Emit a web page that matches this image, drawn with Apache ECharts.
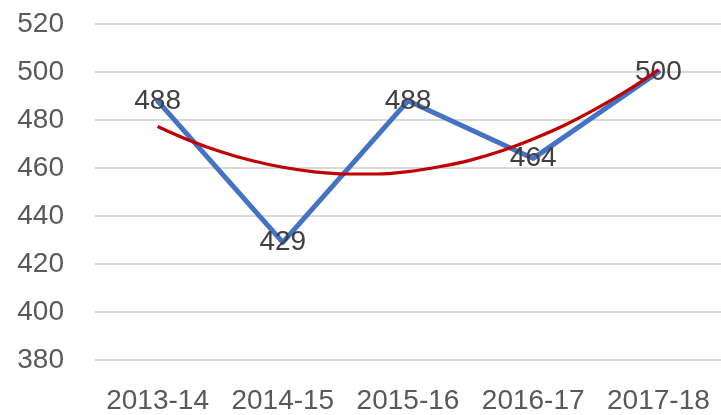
<!DOCTYPE html>
<html>
<head>
<meta charset="utf-8">
<script src="https://cdn.jsdelivr.net/npm/echarts@6/dist/echarts.min.js"></script>
<style>html,body{margin:0;padding:0;background:#fff;}#c{width:721px;height:415px;}</style>
</head>
<body>
<div id="c"></div>
<script>
var categories = ['2013-14', '2014-15', '2015-16', '2016-17', '2017-18'];
var values = [488, 429, 488, 464, 500];
// trend line (polynomial) at quarter-category steps
var trendX = [0, 0.25, 0.5, 0.75, 1, 1.25, 1.5, 1.75, 2, 2.25, 2.5, 2.75, 3, 3.25, 3.5, 3.75, 4];
var trendY = [477.3, 471.6, 466.9, 463.1, 460.3, 458.4, 457.5, 457.5, 458.5, 460.5, 463.3, 467.2, 472.1, 477.8, 484.6, 492.2, 500.9];
var yTicks = { min: 380, max: 520, interval: 20 };

var font = 'Liberation Sans';
var chart = echarts.init(document.getElementById('c'), null, { renderer: 'canvas' });
chart.setOption({
  animation: false,
  backgroundColor: '#fff',
  grid: { left: 95, top: 24, width: 631, height: 337, containLabel: false },
  xAxis: [
    {
      type: 'category', data: categories, boundaryGap: true,
      axisLine: { show: false }, axisTick: { show: false },
      axisLabel: { color: '#595959', fontSize: 28, fontFamily: font, margin: 27, interval: 0, hideOverlap: false }
    },
    { type: 'value', min: -0.5, max: 4.5, show: false }
  ],
  yAxis: {
    type: 'value', min: yTicks.min, max: yTicks.max, interval: yTicks.interval,
    axisLine: { show: false }, axisTick: { show: false },
    splitLine: { lineStyle: { color: '#d9d9d9', width: 2 } },
    axisLabel: { color: '#595959', fontSize: 28, fontFamily: font, margin: 31 }
  },
  series: [
    {
      type: 'line', xAxisIndex: 0, data: values,
      symbol: 'circle', symbolSize: 2, showSymbol: true,
      itemStyle: { color: 'rgba(0,0,0,0)' },
      lineStyle: { color: '#4472c4', width: 5, cap: 'round', join: 'round' },
      label: {
        show: true, position: ['50%', '50%'], align: 'center', verticalAlign: 'middle',
        color: '#404040', fontSize: 28, fontFamily: font, offset: [0, 3]
      },
      labelLayout: { hideOverlap: false },
      z: 2
    },
    {
      type: 'line', xAxisIndex: 1,
      data: trendX.map(function (x, i) { return [x, trendY[i]]; }),
      smooth: 0.4, symbol: 'none',
      lineStyle: { color: '#c00000', width: 3.2 },
      z: 3
    }
  ]
});
</script>
</body>
</html>
